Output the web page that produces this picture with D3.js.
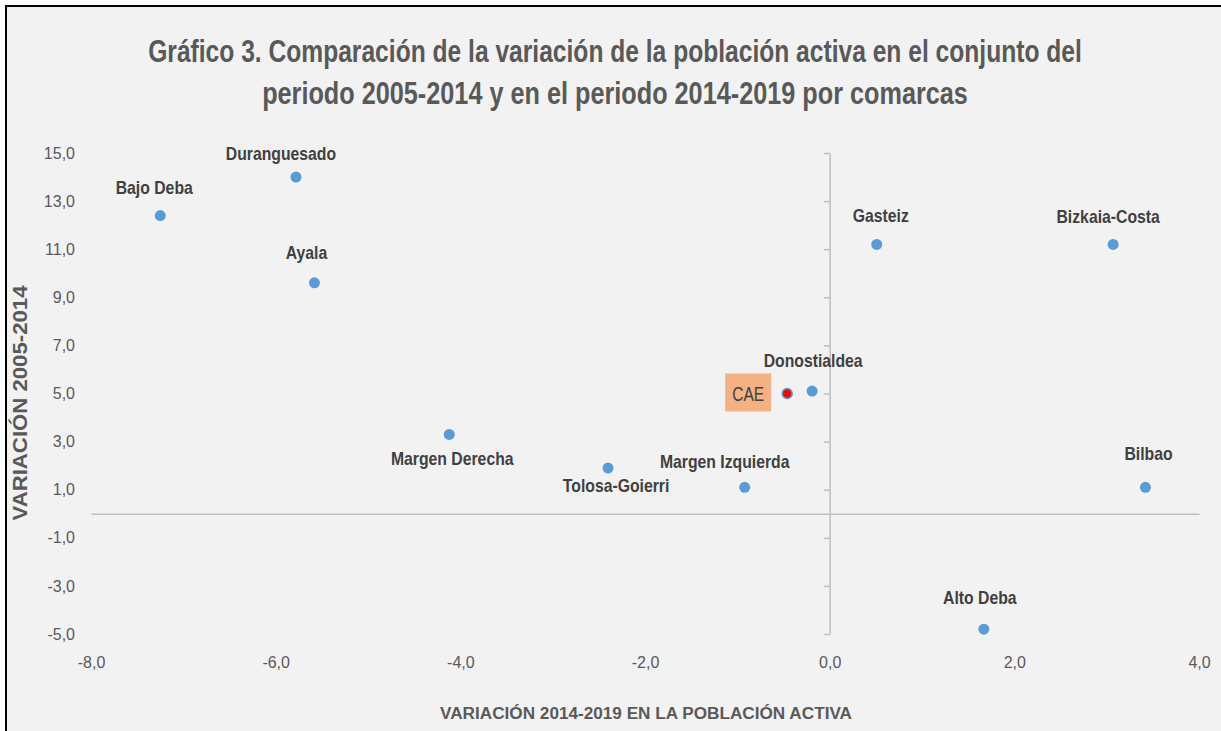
<!DOCTYPE html>
<html><head><meta charset="utf-8">
<script src="https://cdn.jsdelivr.net/npm/d3@7"></script>
<style>
body{margin:0;background:#fff;}
svg{display:block;font-family:"Liberation Sans",Arial,sans-serif;}
</style>
</head><body>
<svg id="chart" width="1221" height="731"></svg>
<script>
// ---- data ----
const comarcas = ["Bajo Deba","Duranguesado","Ayala","Margen Derecha","Tolosa-Goierri","Margen Izquierda","CAE","Donostialdea","Gasteiz","Bizkaia-Costa","Bilbao","Alto Deba"];
const var2014_2019 = [-7.25,-5.78,-5.58,-4.12,-2.40,-0.92,-0.46,-0.19,0.51,3.07,3.42,1.67];
const var2005_2014 = [12.4,14.0,9.6,3.3,1.9,1.1,5.0,5.1,11.2,11.2,1.1,-4.8];
const xTicks = [-8,-6,-4,-2,0,2,4];
const yTicks = [-5,-3,-1,1,3,5,7,9,11,13,15];
const highlighted = "CAE";
const titleLines = ["Gráfico 3. Comparación de la variación de la población activa en el conjunto del","periodo 2005-2014 y en el periodo 2014-2019 por comarcas"];
const xTitle = "VARIACIÓN  2014-2019 EN LA POBLACIÓN ACTIVA";
const yTitle = "VARIACIÓN  2005-2014";
// label placement (pixel offsets of label centre from its point)
const labelOffsets = {
  "Bajo Deba":[-6,-29],"Duranguesado":[-15,-24],"Ayala":[-8,-31],"Margen Derecha":[3,24],
  "Tolosa-Goierri":[8,17],"Margen Izquierda":[-20,-26],"CAE":[-39,-1],"Donostialdea":[1,-31],
  "Gasteiz":[4,-29],"Bizkaia-Costa":[-5,-28],"Bilbao":[3,-34],"Alto Deba":[-4,-32]
};

const data = comarcas.map((n,i)=>({name:n,x:var2014_2019[i],y:var2005_2014[i]}));

const svg = d3.select("#chart");
const W = 1221, H = 731;

svg.append("rect").attr("x",6).attr("y",6).attr("width",W+10).attr("height",H+10)
  .attr("fill","#f2f2f2").attr("stroke","#000").attr("stroke-width",2);

const x = d3.scaleLinear().domain([-8,4]).range([91,1199]);
const y = d3.scaleLinear().domain([-5,15]).range([634,153]);

const loc = d3.formatLocale({decimal:",",thousands:".",grouping:[3],currency:["","€"],minus:"-"});
const fmt = loc.format(".1f");

// condensed text helper: centred text at (cx, by), squeezed horizontally to width w
function squeezed(parent, txt, cx, by, w, size, weight, fill, rotate){
  const g = parent.append("g");
  const t = g.append("text").attr("text-anchor","middle").attr("font-size",size)
    .attr("font-weight",weight).attr("fill",fill).text(txt);
  const k = w / t.node().getComputedTextLength();
  g.attr("transform",`translate(${cx},${by})${rotate?` rotate(${rotate})`:""} scale(${k},1)`);
  return t;
}

// title
const tw = [934,706], tb=[62,104];
titleLines.forEach((t,i)=> squeezed(svg,t,615,tb[i],tw[i],32,"bold","#595959"));

// vertical axis at x=0 with ticks
const yAxisLine = svg.append("g").attr("transform",`translate(${x(0)},0)`)
  .call(d3.axisLeft(y).tickValues(yTicks).tickSize(6).tickSizeOuter(0).tickFormat(""));
yAxisLine.selectAll("path,line").attr("stroke","#bfbfbf").attr("stroke-width",1.5);

// horizontal axis at y=0
const xAxisLine = svg.append("g").attr("transform",`translate(0,${y(0)})`)
  .call(d3.axisBottom(x).tickValues(xTicks).tickSize(0).tickSizeOuter(0).tickFormat(""));
xAxisLine.selectAll("path").attr("stroke","#bfbfbf").attr("stroke-width",1.5);
xAxisLine.selectAll("line").remove();

// y tick labels (low)
const yLab = svg.append("g").attr("transform","translate(78,0)")
  .call(d3.axisLeft(y).tickValues(yTicks).tickSize(0).tickPadding(3).tickFormat(fmt));
yLab.select(".domain").remove();
yLab.selectAll("text").attr("font-size",16).attr("fill","#595959").attr("font-family",null);

// x tick labels (low)
const xLab = svg.append("g").attr("transform","translate(0,654)")
  .call(d3.axisBottom(x).tickValues(xTicks).tickSize(0).tickPadding(3).tickFormat(fmt));
xLab.select(".domain").remove();
xLab.selectAll("text").attr("font-size",16).attr("fill","#595959").attr("font-family",null);

// axis titles
squeezed(svg,xTitle,646,719,412,17,"bold","#595959");
squeezed(svg,yTitle,27,403,235,20,"bold","#595959",-90);

// CAE label box
const cae = data.find(d=>d.name===highlighted);
const co = labelOffsets[highlighted];
svg.append("rect").attr("x",x(cae.x)+co[0]-23).attr("y",y(cae.y)+co[1]-19)
  .attr("width",46).attr("height",38).attr("fill","#f4b183");
squeezed(svg,highlighted,x(cae.x)+co[0],y(cae.y)+co[1]+8,32,21,"normal","#404040");

// points
svg.append("g").selectAll("circle").data(data).join("circle")
  .attr("cx",d=>x(d.x)).attr("cy",d=>y(d.y)).attr("r",d=>d.name===highlighted?5:5.5)
  .attr("fill",d=>d.name===highlighted?"#ff0000":"#5b9bd5")
  .attr("stroke",d=>d.name===highlighted?"#5b9bd5":"none").attr("stroke-width",1.5);

// data labels
const labelLayer = svg.append("g");
data.filter(d=>d.name!==highlighted).forEach(d=>{
  const g = labelLayer.append("g");
  const t = g.append("text").attr("text-anchor","middle").attr("font-size",19)
    .attr("font-weight","bold").attr("fill","#404040").text(d.name);
  g.attr("transform",`translate(${x(d.x)+labelOffsets[d.name][0]},${y(d.y)+labelOffsets[d.name][1]+7}) scale(0.83,1)`);
});
</script>
</body></html>
